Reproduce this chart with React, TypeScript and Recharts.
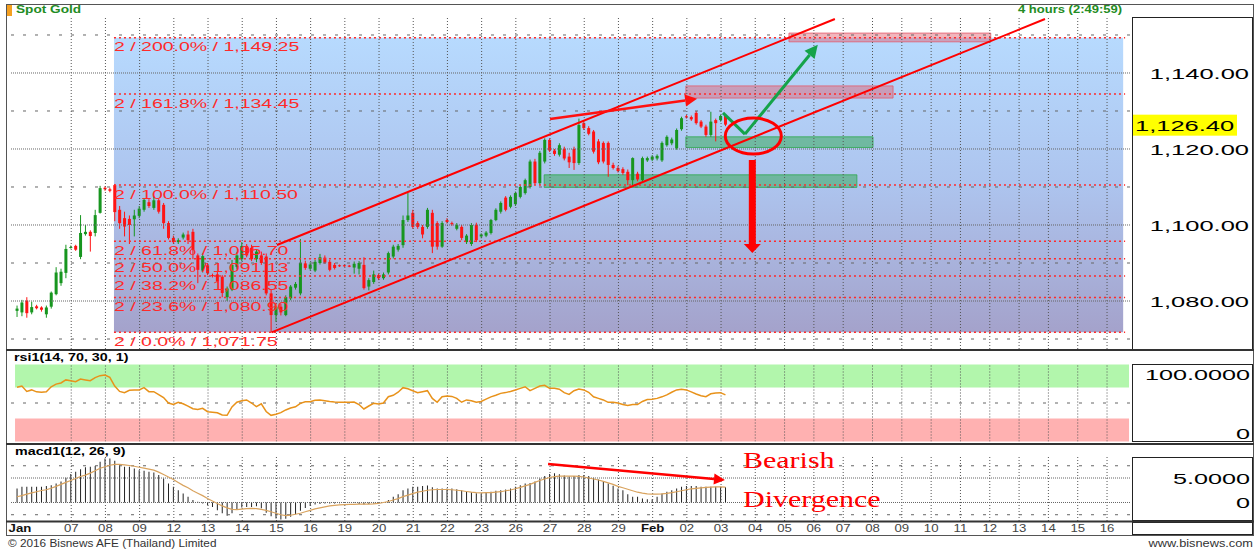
import React from 'react';
import {
  ComposedChart,
  Bar,
  Line,
  XAxis,
  YAxis,
  ReferenceLine,
  ReferenceArea,
  ReferenceDot,
} from 'recharts';

const FONT = '"Liberation Sans", Arial, sans-serif';
const SERIF = '"Liberation Serif", "Times New Roman", serif';
const UP = '#17961f';
const DOWN = '#ff1414';
const FIB_RED = '#ff2a2a';

// x is the 4-hour bar number (7 bars per trading day, 6 per day in the empty future)
const X_DOMAIN: [number, number] = [-1.43, 227.8];
const tickLabels = ['Jan', '07', '08', '09', '12', '13', '14', '15', '16', '19', '20', '21', '22', '23', '26', '27', '28', '29', 'Feb', '02', '03', '04', '05', '06', '07', '08', '09', '10', '11', '12', '13', '14', '15', '16'];
const tickAt = [0.6, 11.1, 18.1, 25.1, 32.1, 39.1, 46.1, 53.1, 60.1, 67.1, 74.1, 81.1, 88.1, 95.1, 102.1, 109.1, 116.1, 123.1, 130.1, 137.1, 144.1, 151.1, 157.1, 163.1, 169.1, 175.1, 181.1, 187.1, 193.1, 199.1, 205.1, 211.1, 217.1, 223.1];
const gridAt = tickAt.slice(1);

// open, high, low, close
const ohlc: number[][] = [
  [1077.4, 1078.8, 1075.8, 1078.0], [1077.0, 1080.3, 1076.0, 1079.6], [1080.1, 1081.0, 1075.6, 1076.8], [1077.0, 1079.8, 1076.5, 1078.4],
  [1078.6, 1079.0, 1077.8, 1078.1], [1078.3, 1078.6, 1077.2, 1077.7], [1076.5, 1078.8, 1075.6, 1078.3], [1078.5, 1082.5, 1078.0, 1082.2],
  [1081.8, 1088.9, 1081.5, 1087.5], [1084.7, 1088.5, 1084.0, 1087.7], [1087.4, 1094.8, 1086.0, 1093.7], [1094.0, 1094.6, 1093.8, 1094.2],
  [1094.5, 1094.8, 1093.2, 1093.5], [1091.6, 1102.6, 1091.0, 1097.9], [1097.6, 1100.0, 1097.2, 1098.2], [1098.2, 1098.6, 1093.0, 1097.1],
  [1097.9, 1104.0, 1097.0, 1102.6], [1103.2, 1110.3, 1103.0, 1109.7], [1109.8, 1110.2, 1109.0, 1109.4], [1109.4, 1109.8, 1108.6, 1109.0],
  [1110.5, 1110.8, 1101.0, 1103.4], [1104.0, 1105.0, 1099.0, 1100.5], [1101.8, 1103.5, 1097.0, 1099.6], [1101.6, 1102.5, 1095.0, 1100.0],
  [1101.5, 1104.0, 1097.0, 1102.5], [1102.4, 1105.0, 1101.8, 1104.3], [1104.0, 1107.0, 1103.5, 1106.6], [1106.0, 1106.8, 1104.5, 1105.0],
  [1104.5, 1107.5, 1104.0, 1106.5], [1106.5, 1107.0, 1103.0, 1103.5], [1105.3, 1105.8, 1099.0, 1100.5], [1100.5, 1101.0, 1096.2, 1096.6],
  [1096.6, 1097.2, 1095.0, 1095.5], [1095.5, 1096.5, 1095.0, 1096.0], [1096.7, 1098.0, 1096.2, 1097.5], [1097.5, 1098.5, 1095.0, 1096.0],
  [1098.2, 1099.0, 1091.0, 1093.4], [1092.0, 1092.5, 1084.7, 1088.2], [1088.0, 1092.5, 1087.5, 1091.8], [1089.4, 1090.0, 1086.8, 1087.3],
  [1086.8, 1087.2, 1086.2, 1086.6], [1087.0, 1087.8, 1084.8, 1085.2], [1086.4, 1086.8, 1081.0, 1082.1], [1081.0, 1083.8, 1080.0, 1083.3],
  [1083.0, 1090.8, 1082.6, 1089.5], [1089.0, 1092.8, 1088.5, 1092.0], [1091.0, 1095.5, 1090.5, 1094.5], [1094.5, 1095.0, 1091.5, 1092.0],
  [1094.0, 1094.8, 1090.5, 1091.0], [1091.0, 1093.5, 1090.2, 1093.0], [1092.0, 1093.0, 1089.5, 1090.0], [1091.7, 1092.5, 1081.5, 1082.0],
  [1082.0, 1083.0, 1071.75, 1076.3], [1076.3, 1079.5, 1074.5, 1078.5], [1078.5, 1079.2, 1076.2, 1077.0], [1076.3, 1081.5, 1076.0, 1081.0],
  [1080.7, 1084.2, 1080.2, 1083.8], [1083.5, 1085.0, 1083.0, 1084.5], [1082.0, 1096.3, 1081.5, 1090.0], [1089.9, 1090.6, 1088.2, 1088.7],
  [1088.5, 1090.2, 1088.0, 1089.6], [1088.0, 1090.8, 1087.6, 1090.3], [1090.0, 1092.4, 1089.6, 1091.5], [1091.4, 1092.0, 1089.8, 1090.1],
  [1090.3, 1090.8, 1087.8, 1088.2], [1089.5, 1090.0, 1088.3, 1088.7], [1089.4, 1089.6, 1089.0, 1089.3], [1089.4, 1089.6, 1089.0, 1089.3],
  [1089.3, 1089.5, 1088.9, 1089.2], [1088.8, 1090.4, 1087.2, 1089.8], [1088.5, 1090.5, 1087.0, 1090.0], [1089.5, 1091.5, 1083.0, 1083.4],
  [1083.8, 1086.0, 1082.8, 1085.5], [1085.0, 1088.0, 1084.5, 1087.0], [1086.8, 1087.2, 1085.5, 1086.0], [1086.0, 1087.5, 1085.6, 1087.0],
  [1087.5, 1093.0, 1087.0, 1092.6], [1091.7, 1094.8, 1091.2, 1094.3], [1093.5, 1095.0, 1093.0, 1094.5], [1094.7, 1102.5, 1094.0, 1101.3],
  [1101.3, 1108.4, 1100.8, 1102.5], [1103.2, 1104.0, 1099.0, 1099.5], [1100.5, 1101.0, 1099.0, 1099.5], [1099.5, 1100.0, 1096.5, 1097.5],
  [1099.5, 1104.5, 1099.0, 1104.0], [1103.2, 1104.0, 1092.6, 1094.3], [1100.5, 1101.0, 1093.5, 1094.3], [1094.3, 1101.0, 1094.0, 1100.5],
  [1101.3, 1101.8, 1100.4, 1100.8], [1100.5, 1100.9, 1099.8, 1100.2], [1099.0, 1100.5, 1098.6, 1100.0], [1099.5, 1100.0, 1096.0, 1096.6],
  [1095.5, 1097.6, 1095.0, 1097.2], [1095.0, 1100.5, 1094.5, 1100.0], [1100.0, 1100.6, 1095.5, 1096.0], [1097.0, 1097.8, 1096.5, 1097.5],
  [1097.2, 1098.4, 1096.8, 1098.0], [1097.9, 1101.6, 1097.5, 1101.3], [1101.3, 1104.4, 1101.0, 1104.0], [1103.5, 1106.2, 1103.0, 1105.8],
  [1107.2, 1107.6, 1103.6, 1104.0], [1104.8, 1107.8, 1104.4, 1107.4], [1105.5, 1108.8, 1105.0, 1108.4], [1107.4, 1110.4, 1107.0, 1110.0],
  [1108.4, 1112.2, 1108.0, 1111.8], [1110.0, 1117.2, 1109.6, 1116.7], [1116.7, 1117.4, 1110.6, 1111.0], [1111.0, 1119.5, 1110.5, 1119.0],
  [1116.7, 1122.8, 1116.2, 1122.4], [1122.4, 1122.8, 1119.2, 1119.6], [1119.6, 1120.0, 1118.2, 1118.7], [1118.5, 1121.5, 1118.0, 1121.0],
  [1120.0, 1120.6, 1117.0, 1117.5], [1118.0, 1119.0, 1115.0, 1116.5], [1120.0, 1120.6, 1114.5, 1116.3], [1116.3, 1128.0, 1115.8, 1126.3],
  [1126.8, 1127.4, 1125.0, 1125.5], [1125.5, 1126.0, 1123.6, 1124.0], [1124.6, 1125.0, 1118.8, 1119.3], [1122.0, 1122.6, 1116.0, 1116.5],
  [1121.6, 1122.0, 1116.2, 1116.7], [1121.6, 1122.0, 1112.7, 1115.8], [1115.8, 1116.4, 1114.6, 1115.0], [1115.0, 1115.6, 1113.8, 1114.2],
  [1114.7, 1115.2, 1113.2, 1113.7], [1114.0, 1114.6, 1110.5, 1111.8], [1111.8, 1117.8, 1110.5, 1117.6], [1113.5, 1114.0, 1111.5, 1112.0],
  [1111.8, 1118.0, 1111.4, 1117.6], [1117.0, 1118.0, 1116.6, 1117.6], [1117.2, 1118.4, 1116.8, 1118.0], [1117.5, 1118.6, 1117.0, 1118.2],
  [1117.0, 1122.0, 1116.6, 1121.6], [1121.0, 1123.6, 1120.6, 1123.2], [1121.5, 1123.0, 1121.0, 1122.5], [1120.2, 1125.4, 1119.8, 1125.0],
  [1125.2, 1128.5, 1124.8, 1128.1], [1128.6, 1129.0, 1128.0, 1128.3], [1128.4, 1128.8, 1127.4, 1127.8], [1129.5, 1130.0, 1126.4, 1126.8],
  [1127.2, 1127.6, 1125.5, 1125.9], [1125.9, 1126.4, 1123.2, 1123.7], [1123.7, 1129.8, 1123.2, 1127.2], [1127.6, 1128.0, 1122.0, 1126.8],
  [1127.6, 1129.0, 1127.2, 1128.7], [1128.7, 1129.0, 1126.0, 1126.4],
];

const rsi = [
  70.4, 72, 65, 67, 64.5, 64, 64.7, 71, 74.5, 76,
  80, 79, 77.7, 81, 80, 79, 83, 85.5, 86.4, 83.4,
  72, 65, 63.4, 66.5, 67, 67, 69.9, 64.7, 64.7, 61,
  57, 50, 48, 51, 49, 46, 42.5, 41.5, 43, 38.7,
  38, 37.4, 34.5, 34, 45, 51, 53, 54, 50, 45.2,
  49, 39, 34, 35.5, 37.5, 41, 43.5, 45, 49.6, 51.7,
  51.7, 53.5, 54, 53, 52, 51.3, 51, 50.9, 50.9, 51.3,
  48, 42.2, 46.1, 49.6, 48.7, 50, 58.2, 60, 64, 69.9,
  68.5, 66, 63.4, 64.7, 66, 56, 50.9, 58.2, 59.1, 58.6,
  56, 51, 54, 53, 51, 52, 55, 58, 60, 62.5,
  63.5, 65, 67, 69, 71.1, 66, 69, 72, 73, 69,
  69, 68, 63.4, 61.2, 66, 68.2, 67, 63.9, 58, 56,
  54, 50.9, 50.9, 50, 48, 46.9, 48, 48, 52, 54.5,
  55, 56, 58, 60.6, 64, 67, 67.7, 67, 64.5, 61.7,
  59.5, 58.2, 62, 63, 63.4, 60.5,
];

const macd = [
  2.86, 3.2, 3.2, 3.2, 3.2, 3.2, 3.35, 3.5, 3.9, 4.3,
  5.06, 5.8, 6.3, 6.8, 7.2, 7.3, 7.45, 8.3, 9.0, 9.0,
  8.5, 7.6, 7.3, 7.3, 6.95, 6.6, 6.5, 6.3, 6.1, 5.6,
  4.9, 3.9, 3.2, 2.5, 1.85, 1.17, 0.5, 0.15, -0.2, -0.54,
  -0.9, -1.56, -2.2, -2.7, -2.2, -1.4, -1.0, -0.9, -0.9, -0.75,
  -1.2, -2.1, -2.8, -3.25, -3.45, -3.3, -2.9, -2.4, -1.7, -1.15,
  -0.7, -0.4, -0.3, -0.2, -0.2, -0.2, -0.15, -0.1, -0.1, -0.1,
  -0.3, -0.4, -0.3, -0.2, -0.1, 0.1, 0.5, 1.17, 1.7, 2.5,
  2.86, 3.2, 3.2, 3.35, 3.47, 3.1, 2.86, 2.86, 2.86, 2.86,
  2.7, 2.5, 2.3, 2.1, 1.9, 1.85, 1.97, 2.2, 2.4, 2.5,
  2.65, 2.86, 3.2, 3.5, 3.9, 4.0, 4.3, 4.9, 5.4, 5.8,
  5.95, 5.75, 5.5, 5.3, 5.4, 5.6, 5.6, 5.4, 5.06, 4.7,
  4.2, 3.9, 3.4, 2.86, 2.5, 1.7, 1.17, 1.17, 0.82, 0.68,
  0.68, 1.17, 1.85, 2.2, 2.5, 2.86, 3.2, 3.35, 3.35, 3.35,
  3.2, 3.2, 3.2, 3.2, 3.2, 3.1,
];

const signal = [
  1.17, 1.4, 1.7, 1.95, 2.2, 2.45, 2.6, 2.9, 3.3, 3.7,
  4.1, 4.5, 4.9, 5.3, 5.6, 6.0, 6.5, 7.0, 7.3, 7.6,
  7.8, 7.8, 7.7, 7.55, 7.4, 7.2, 7.0, 6.8, 6.6, 6.2,
  5.7, 5.2, 4.7, 4.1, 3.5, 3.0, 2.4, 1.9, 1.4, 0.8,
  0.3, -0.2, -0.7, -1.1, -1.4, -1.45, -1.35, -1.25, -1.2, -1.25,
  -1.4, -1.6, -1.9, -2.2, -2.5, -2.7, -2.6, -2.4, -2.2, -1.9,
  -1.6, -1.3, -1.1, -0.9, -0.7, -0.6, -0.5, -0.45, -0.4, -0.37,
  -0.35, -0.35, -0.35, -0.3, -0.2, 0.0, 0.2, 0.5, 0.8, 1.2,
  1.5, 1.8, 2.1, 2.3, 2.5, 2.6, 2.65, 2.65, 2.65, 2.6,
  2.5, 2.4, 2.25, 2.1, 2.0, 1.97, 2.0, 2.0, 2.1, 2.2,
  2.4, 2.55, 2.8, 3.1, 3.4, 3.7, 4.1, 4.5, 4.8, 5.1,
  5.3, 5.4, 5.4, 5.4, 5.4, 5.35, 5.2, 5.0, 4.8, 4.6,
  4.3, 4.0, 3.7, 3.3, 3.0, 2.7, 2.4, 2.1, 1.9, 1.75,
  1.7, 1.7, 1.75, 1.85, 2.0, 2.2, 2.4, 2.6, 2.8, 2.9,
  3.0, 3.1, 3.15, 3.2, 3.2, 3.15,
];

const fibNames = ['200.0%', '161.8%', '100.0%', '61.8%', '50.0%', '38.2%', '23.6%', '0.0%'];
const fibPrices = [1149.25, 1134.45, 1110.5, 1095.7, 1091.13, 1086.55, 1080.9, 1071.75];
const FIB_FROM = 19.85;
const FIB_TO = 226.8;

const priceTicks = [1080, 1100, 1120, 1140];
const minorPrice = [1070, 1090, 1110, 1130, 1150];
const LAST = 1126.4;

// drawn annotations, in [bar, value] terms
const channelUpper = [[53.2, 1094.74], [167.4, 1154.2]];
const channelLower = [[52.1, 1071.75], [210.4, 1154.2]];
const trendArrow = [[109.1, 1127.9], [139.2, 1133.2]];
const checkDown = [[144.5, 1129.5], [149.0, 1123.9]];
const checkUp = [[149.0, 1123.9], [163.9, 1147.4]];
const dropArrow = [[150.5, 1117.1], [150.5, 1092.6]];
const ring = [150.7, 1123.4];
const redZones = [[158.0, 199.3, 1148.2, 1150.5], [136.9, 179.3, 1133.4, 1136.6]];
const greenZones = [[136.9, 175.2, 1120.4, 1123.2], [107.9, 171.9, 1109.9, 1113.2]];
const macdArrow = [[108.7, 7.86], [144.9, 4.6]];

const rows = ohlc.map((c, i) => ({
  i,
  o: c[0],
  h: c[1],
  l: c[2],
  c: c[3],
  range: [c[2], c[1]],
  rsi: rsi[i],
  macd: macd[i],
  sig: signal[i],
}));

const fmt = (v: number) =>
  v.toLocaleString('en-US', { minimumFractionDigits: 2, maximumFractionDigits: 2 });

const ST = ({ x, y, sx = 1, anchor = 'start', size = 12, weight = 'normal', fill = '#000', family = FONT, children }: any) => (
  <text
    transform={`translate(${x},${y}) scale(${sx},1)`}
    textAnchor={anchor}
    fontSize={size}
    fontWeight={weight}
    fill={fill}
    fontFamily={family}
  >
    {children}
  </text>
);

const Candle = (props: any) => {
  let { x, y, width, height } = props;
  const { payload } = props;
  if (height < 0) {
    y += height;
    height = -height;
  }
  const span = payload.h - payload.l || 1e-6;
  const yOf = (v: number) => y + ((payload.h - v) / span) * height;
  const color = payload.c >= payload.o ? UP : DOWN;
  const top = yOf(Math.max(payload.o, payload.c));
  const bot = yOf(Math.min(payload.o, payload.c));
  const cx = x + width / 2;
  return (
    <g>
      <line x1={cx} x2={cx} y1={y} y2={y + height} stroke={color} strokeWidth={1} />
      <rect x={x} y={top} width={width} height={Math.max(1, bot - top)} fill={color} />
    </g>
  );
};

const arrow = (color: string, w: number, len: number, half: number) => (p: any) => {
  const { x1, y1, x2, y2 } = p;
  const a = Math.atan2(y2 - y1, x2 - x1);
  const bx = x2 - len * Math.cos(a);
  const by = y2 - len * Math.sin(a);
  const nx = -Math.sin(a) * half;
  const ny = Math.cos(a) * half;
  return (
    <g>
      <line x1={x1} y1={y1} x2={bx} y2={by} stroke={color} strokeWidth={w} />
      <polygon points={`${x2},${y2} ${bx + nx},${by + ny} ${bx - nx},${by - ny}`} fill={color} />
    </g>
  );
};

const seg = (pts: number[][]) => [
  { x: pts[0][0], y: pts[0][1] },
  { x: pts[1][0], y: pts[1][1] },
];

const vGrid = () =>
  gridAt.map((t) => (
    <ReferenceLine key={'g' + t} x={t} stroke="#555" strokeDasharray="1 2" ifOverflow="hidden" />
  ));

const MainTick = (p: any) => {
  const v = p.payload.value;
  if (v === LAST) {
    return (
      <g>
        <rect x={1132} y={p.y - 10} width={105} height={21} fill="#ffff00" />
        <ST x={1135} y={p.y + 6} sx={1.7} size={15}>{fmt(v)}</ST>
      </g>
    );
  }
  return <ST x={1249} y={p.y + 6} sx={1.7} size={15} anchor="end">{fmt(v)}</ST>;
};

const RsiTick = (p: any) => {
  const v = p.payload.value;
  return (
    <ST x={1250} y={v === 100 ? p.y + 15 : p.y - 3} sx={1.68} size={15} anchor="end">
      {v === 100 ? '100.0000' : '0'}
    </ST>
  );
};

const MacdTick = (p: any) => {
  const v = p.payload.value;
  return (
    <ST x={1250} y={p.y + 5.5} sx={1.68} size={15} anchor="end">
      {v === 0 ? '0' : v.toFixed(4)}
    </ST>
  );
};

const DateTick = (p: any) => {
  const k = tickAt.indexOf(p.payload.value);
  const label = tickLabels[k];
  const bold = label === 'Jan' || label === 'Feb';
  return (
    <ST x={p.x} y={87} sx={1.2} size={11} anchor="middle" fill={bold ? '#111' : '#444'} weight={bold ? 'bold' : 'normal'}>
      {label}
    </ST>
  );
};

export default function App() {
  return (
    <div style={{ position: 'absolute', left: 0, top: 0, width: 1259, height: 550, background: '#fff' }}>
      <svg width={0} height={0} style={{ position: 'absolute' }}>
        <defs>
          <linearGradient id="fibFill" x1="0" y1="0" x2="0" y2="1">
            <stop offset="0%" stopColor="#b7dafe" />
            <stop offset="50%" stopColor="#adc4ee" />
            <stop offset="100%" stopColor="#a4a2cb" />
          </linearGradient>
        </defs>
      </svg>

      {/* price panel */}
      <div style={{ position: 'absolute', left: 0, top: 0 }}>
        <ComposedChart width={1259} height={350} data={rows} margin={{ top: 18, right: 6, bottom: 1, left: 10 }}>
          <XAxis dataKey="i" type="number" domain={X_DOMAIN} allowDataOverflow ticks={tickAt} hide />
          <YAxis
            orientation="right"
            width={123}
            domain={[1067.37, 1154.47]}
            allowDataOverflow
            ticks={[...priceTicks, LAST]}
            tick={MainTick}
            axisLine={false}
            tickLine={false}
            interval={0}
          />
          <ReferenceArea x1={FIB_FROM} x2={226.4} y1={1071.75} y2={1149.25} fill="url(#fibFill)" fillOpacity={1} stroke="none" />
          {vGrid()}
          {priceTicks.map((v) => (
            <ReferenceLine key={'h' + v} y={v} stroke="#666" strokeDasharray="1 1" />
          ))}
          {minorPrice.map((v) => (
            <ReferenceLine key={'m' + v} y={v} stroke="#666" strokeDasharray="3 9" ifOverflow="hidden" />
          ))}
          {redZones.map((z, k) => (
            <ReferenceArea key={'rz' + k} x1={z[0]} x2={z[1]} y1={z[2]} y2={z[3]} fill="#e35a6a" fillOpacity={0.45} stroke="#e35a6a" strokeOpacity={0.8} />
          ))}
          {greenZones.map((z, k) => (
            <ReferenceArea key={'gz' + k} x1={z[0]} x2={z[1]} y1={z[2]} y2={z[3]} fill="#2fa84f" fillOpacity={0.5} stroke="#2fa84f" strokeOpacity={0.8} />
          ))}
          <Bar dataKey="range" barSize={3} shape={Candle} isAnimationActive={false} />
          {fibPrices.map((v) => (
            <ReferenceLine
              key={'f' + v}
              segment={[{ x: FIB_FROM, y: v }, { x: FIB_TO, y: v }]}
              stroke={FIB_RED}
              strokeWidth={1.5}
              strokeDasharray="2 3"
              ifOverflow="visible"
            />
          ))}
          {fibPrices.map((v, k) => (
            <ReferenceDot
              key={'fl' + v}
              x={FIB_FROM}
              y={v}
              r={1}
              ifOverflow="visible"
              shape={(p: any) => (
                <ST x={p.cx} y={p.cy + 13.5} sx={1.5} size={13} fill={FIB_RED}>
                  {`2 / ${fibNames[k]} / ${fmt(v)}`}
                </ST>
              )}
            />
          ))}
          <ReferenceLine segment={seg(channelUpper)} stroke="#ff0000" strokeWidth={2} ifOverflow="visible" />
          <ReferenceLine segment={seg(channelLower)} stroke="#ff0000" strokeWidth={2} ifOverflow="visible" />
          <ReferenceLine segment={seg(trendArrow)} ifOverflow="visible" shape={arrow('#ff1010', 2.5, 12, 6)} />
          <ReferenceLine segment={seg(checkDown)} stroke="#15a34a" strokeWidth={3} ifOverflow="visible" />
          <ReferenceLine segment={seg(checkUp)} ifOverflow="visible" shape={arrow('#15a34a', 3, 13, 6.5)} />
          <ReferenceLine segment={seg(dropArrow)} ifOverflow="visible" shape={arrow('#ff0000', 7, 9, 8.5)} />
          <ReferenceDot
            x={ring[0]}
            y={ring[1]}
            r={1}
            ifOverflow="visible"
            shape={(p: any) => (
              <ellipse cx={p.cx} cy={p.cy} rx={28} ry={18} fill="none" stroke="#ff0000" strokeWidth={3} />
            )}
          />
        </ComposedChart>
      </div>

      {/* rsi panel */}
      <div style={{ position: 'absolute', left: 0, top: 350 }}>
        <ComposedChart width={1259} height={95} data={rows} margin={{ top: 14.5, right: 6, bottom: 3.5, left: 10 }}>
          <XAxis dataKey="i" type="number" domain={X_DOMAIN} allowDataOverflow ticks={tickAt} hide />
          <YAxis
            orientation="right"
            width={123}
            domain={[0, 100]}
            ticks={[0, 100]}
            tick={RsiTick}
            axisLine={false}
            tickLine={false}
            interval={0}
          />
          <ReferenceArea x1={-0.4} x2={227.6} y1={70} y2={100} fill="#b2f6ac" fillOpacity={1} stroke="none" />
          <ReferenceArea x1={-0.4} x2={227.6} y1={0} y2={30} fill="#ffb1b1" fillOpacity={1} stroke="none" />
          {vGrid()}
          <ReferenceLine y={50} stroke="#666" strokeDasharray="3 9" />
          <Line dataKey="rsi" type="linear" stroke="#e8921a" strokeWidth={1.5} dot={false} isAnimationActive={false} />
        </ComposedChart>
      </div>

      {/* macd panel with the date axis */}
      <div style={{ position: 'absolute', left: 0, top: 445 }}>
        <ComposedChart width={1259} height={91} data={rows} margin={{ top: 12, right: 6, bottom: 0, left: 10 }}>
          <XAxis
            dataKey="i"
            type="number"
            domain={X_DOMAIN}
            allowDataOverflow
            ticks={tickAt}
            interval={0}
            height={15}
            axisLine={false}
            tickLine={false}
            tick={DateTick}
          />
          <YAxis
            orientation="right"
            width={123}
            domain={[-3.78, 9.29]}
            allowDataOverflow
            ticks={[0, 5]}
            tick={MacdTick}
            axisLine={false}
            tickLine={false}
            interval={0}
          />
          {vGrid()}
          <ReferenceLine y={0} stroke="#666" strokeDasharray="1 1" />
          <ReferenceLine y={5} stroke="#666" strokeDasharray="1 1" />
          <ReferenceLine y={7.5} stroke="#666" strokeDasharray="3 9" />
          <ReferenceLine y={-2.5} stroke="#666" strokeDasharray="3 9" />
          <Bar dataKey="macd" barSize={1} fill="#222" isAnimationActive={false} />
          <Line dataKey="sig" type="linear" stroke="#d9a35e" strokeWidth={1.2} dot={false} isAnimationActive={false} />
          <ReferenceLine segment={seg(macdArrow)} ifOverflow="visible" shape={arrow('#ff0000', 2.5, 11, 5.5)} />
        </ComposedChart>
      </div>

      {/* frames and captions */}
      <svg width={1259} height={550} style={{ position: 'absolute', left: 0, top: 0, pointerEvents: 'none' }}>
        <rect x={6.5} y={4.5} width={1247} height={531} fill="none" stroke="#555" />
        <rect x={1132.5} y={17.5} width={120} height={332} fill="none" stroke="#222" />
        <rect x={1132.5} y={364.5} width={120} height={77} fill="none" stroke="#222" />
        <rect x={1132.5} y={457.5} width={120} height={63} fill="none" stroke="#222" />
        <rect x={1132.5} y={522.5} width={120} height={12} fill="none" stroke="#222" />
        <line x1={6} x2={1254} y1={350} y2={350} stroke="#333" strokeWidth={2} />
        <line x1={6} x2={1254} y1={444} y2={444} stroke="#333" strokeWidth={2} />
        <line x1={6} x2={1254} y1={521.5} y2={521.5} stroke="#333" strokeWidth={2} />
        <rect x={7} y={5} width={5} height={11} fill="#f5a020" />
        <ST x={16} y={13} sx={1.3} size={10.5} weight="bold" fill="#238c23">Spot Gold</ST>
        <ST x={1018} y={13} sx={1.24} size={10.5} weight="bold" fill="#238c23">4 hours (2:49:59)</ST>
        <ST x={14} y={361} sx={1.3} size={11} weight="bold">rsi1(14, 70, 30, 1)</ST>
        <ST x={15} y={455} sx={1.3} size={11} weight="bold">macd1(12, 26, 9)</ST>
        <ST x={743} y={468} sx={1.25} size={24} fill="#ff0000" family={SERIF}>Bearish</ST>
        <ST x={743} y={507} sx={1.25} size={24} fill="#ff0000" family={SERIF}>Divergence</ST>
        <ST x={8} y={547} sx={1.18} size={10} fill="#333">© 2016 Bisnews AFE (Thailand) Limited</ST>
        <ST x={1253} y={547} sx={1.28} size={10} fill="#333" anchor="end">www.bisnews.com</ST>
      </svg>
    </div>
  );
}
